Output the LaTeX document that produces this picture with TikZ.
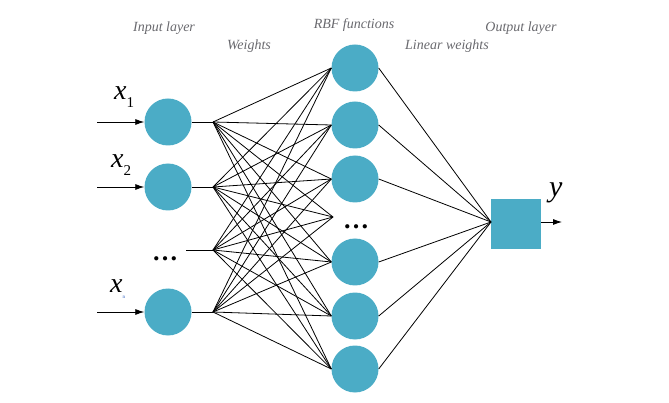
\documentclass[tikz,border=0pt]{standalone}
\usepackage{fontspec}
\setmainfont{Liberation Serif}
\usetikzlibrary{arrows.meta}
\definecolor{nodeblue}{RGB}{75,172,198}
\definecolor{labgray}{RGB}{105,105,110}
\definecolor{subblue}{RGB}{40,90,190}
\begin{document}
\begin{tikzpicture}[x=1pt,y=-1pt,
  neuron/.style={circle,fill=nodeblue,draw=none,minimum size=47pt,inner sep=0pt},
  outbox/.style={rectangle,fill=nodeblue,draw=none,minimum size=50pt,inner sep=0pt},
  layerlab/.style={font=\fontsize{14}{14}\selectfont\itshape,text=labgray,inner sep=0pt},
  conn/.style={draw=black,line width=0.8pt},
  inarrow/.style={draw=black,line width=0.8pt,-{Latex[length=9pt,width=6pt]}},
  varlab/.style={anchor=base west,inner sep=0pt},
  dotslab/.style={font=\fontsize{26}{26}\selectfont\bfseries,inner sep=0pt}
]
\useasboundingbox (0,0) rectangle (669,403);
% labels
\node[layerlab] (tin) at (164,28) {Input layer};
\node[layerlab] (tw) at (249,46) {Weights};
\node[layerlab] (trbf) at (354,25) {RBF functions};
\node[layerlab] (tlw) at (447,46) {Linear weights};
\node[layerlab] (tout) at (521,28) {Output layer};
% input neurons
\node[neuron] (i1) at (168,122) {};
\node[neuron] (i2) at (168,187) {};
\node[neuron] (i3) at (168,312) {};
\node[dotslab] (idots) at (165,259) {…};
% input variable labels
\node[varlab] (lx1) at (114,100) {{\fontsize{28}{28}\selectfont\itshape x}\raisebox{-8pt}{\fontsize{15}{15}\selectfont 1}};
\node[varlab] (lx2) at (111,168) {{\fontsize{28}{28}\selectfont\itshape x}\raisebox{-8pt}{\fontsize{15}{15}\selectfont 2}};
\node[varlab] (lxn) at (110,292) {{\fontsize{28}{28}\selectfont\itshape x}\raisebox{-6pt}{\fontsize{5}{5}\selectfont\color{subblue}n}};
% input arrows
\coordinate (a1) at (97,122);
\coordinate (a2) at (97,187);
\coordinate (a3) at (97,312);
\draw[inarrow] (a1) -- (i1.west);
\draw[inarrow] (a2) -- (i2.west);
\draw[inarrow] (a3) -- (i3.west);
% hubs
\coordinate (h1) at (213,122);
\coordinate (h2) at (213,187);
\coordinate (h3) at (213,250);
\coordinate (h4) at (213,312);
\coordinate (e0) at (186,250);
\draw[conn] (i1.east) -- (h1);
\draw[conn] (i2.east) -- (h2);
\draw[conn] (e0) -- (h3);
\draw[conn] (i3.east) -- (h4);
% RBF neurons
\node[neuron] (r1) at (355,68) {};
\node[neuron] (r2) at (355,125) {};
\node[neuron] (r3) at (355,179) {};
\node[neuron] (r4) at (355,262) {};
\node[neuron] (r5) at (355,316) {};
\node[neuron] (r6) at (355,369) {};
\node[dotslab] (rdotslab) at (356,227) {…};
\coordinate (rd) at (333,217);
% weights
\foreach \h in {h1,h2,h3,h4}{
  \foreach \r in {r1,r2,r3,r4,r5,r6}{
    \draw[conn] (\h) -- (\r.west);
  }
  \draw[conn] (\h) -- (rd);
}
% output
\node[outbox] (out) at (516,224) {};
\coordinate (oc) at (491,222);
\foreach \r in {r1,r2,r3,r4,r5,r6}{
  \draw[conn] (\r.east) -- (oc);
}
\coordinate (oe) at (541,222);
\coordinate (oa) at (562,222);
\draw[inarrow] (oe) -- (oa);
\node[varlab] (ly) at (549,197) {\fontsize{30}{30}\selectfont\itshape y};
\end{tikzpicture}
\end{document}
